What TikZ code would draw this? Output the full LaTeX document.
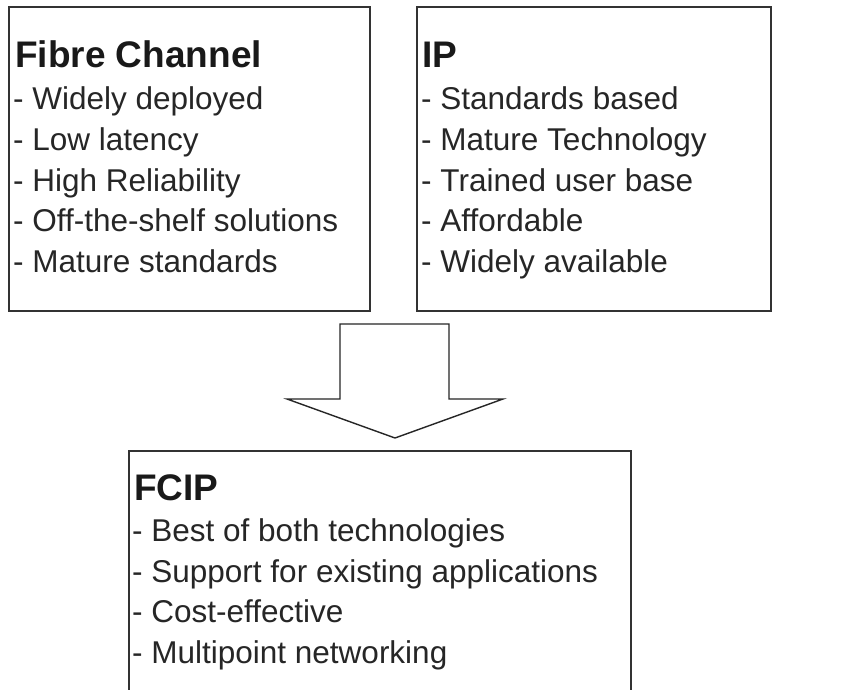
\documentclass[tikz,border=0pt]{standalone}
\usepackage{fontspec}
\setmainfont{Liberation Sans}
\begin{document}
\begin{tikzpicture}[x=1pt,y=-1pt,
  panel/.style={draw=black!80, line width=1.8pt, fill=white},
  heading/.style={font=\fontsize{37}{40}\selectfont\bfseries, text=black!90, inner sep=0pt, anchor=base west},
  item/.style={font=\fontsize{31.5}{38}\selectfont, text=black!85, inner sep=0pt, anchor=base west},
  flow/.style={draw=black!85, line width=1.4pt, fill=white, line join=miter}]
\useasboundingbox (0,0) rectangle (864,690);
\clip (0,0) rectangle (864,690);
\fill[white] (0,0) rectangle (864,690);

% Fibre Channel panel
\draw[panel] (9,7) rectangle (370,311);
\node[heading] (fc) at (15,68) {Fibre Channel};
\foreach \t [count=\i] in {Widely deployed, Low latency, High Reliability, Off-the-shelf solutions, Mature standards}
  \node[item] (fc-\i) at (13,{110+40.5*(\i-1)}) {- \t};

% IP panel
\draw[panel] (417,7) rectangle (771,311);
\node[heading] (ip) at (422,68) {IP};
\foreach \t [count=\i] in {Standards based, Mature Technology, Trained user base, Affordable, Widely available}
  \node[item] (ip-\i) at (421,{110+40.5*(\i-1)}) {- \t};

% Block arrow joining the two panels into FCIP
\draw[flow] (340,324) -- (449,324) -- (449,399) -- (503,399) -- (395,438)
  -- (287,399) -- (340,399) -- cycle;

% FCIP panel (runs past the lower edge)
\draw[panel] (129,451) rectangle (631,720);
\node[heading] (fcip) at (134,500) {FCIP};
\foreach \t [count=\i] in {Best of both technologies, Support for existing applications, Cost-effective, Multipoint networking}
  \node[item] (fcip-\i) at (132,{541.5+40.7*(\i-1)}) {- \t};
\end{tikzpicture}
\end{document}
